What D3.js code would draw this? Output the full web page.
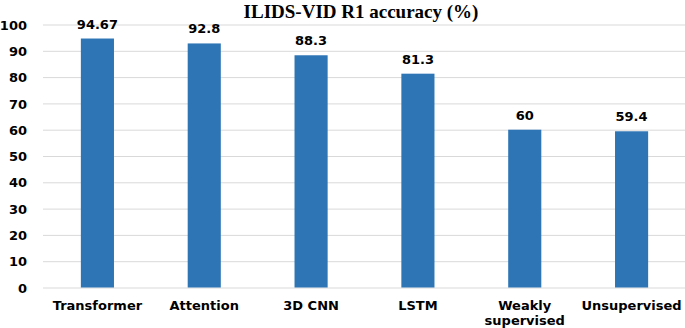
<!DOCTYPE html>
<html><head><meta charset="utf-8">
<script src="https://cdn.jsdelivr.net/npm/d3@7"></script>
<style>html,body{margin:0;padding:0;background:#fff;}svg{display:block;}</style>
</head><body>
<svg id="chart" width="685" height="328"></svg>
<script>
const categories = ["Transformer", "Attention", "3D CNN", "LSTM", "Weakly supervised", "Unsupervised"];
const categoryLines = [["Transformer"], ["Attention"], ["3D CNN"], ["LSTM"], ["Weakly", "supervised"], ["Unsupervised"]];
const values = [94.67, 92.8, 88.3, 81.3, 60, 59.4];
const valueLabels = ["94.67", "92.8", "88.3", "81.3", "60", "59.4"];
const yTicks = [0, 10, 20, 30, 40, 50, 60, 70, 80, 90, 100];
const title = "ILIDS-VID R1 accuracy (%)";

(function () {
const svg = d3.select("#chart");
const W = 685, H = 328;
const mLeft = 44, mRight = 685, mTop = 24.5, mBottom = 287.5;

const x = d3.scaleBand().domain(categories).range([mLeft, mRight]).paddingInner(0.69).paddingOuter(0.345);
const y = d3.scaleLinear().domain([0, 100]).range([mBottom, mTop]);

svg.append("rect").attr("width", W).attr("height", H).attr("fill", "#fff");

svg.append("text").attr("x", 361).attr("y", 18).attr("text-anchor", "middle")
  .attr("font-family", "'Liberation Serif', 'Times New Roman', serif").attr("font-weight", "bold")
  .attr("font-size", 19).attr("fill", "#000").text(title);

// gridlines
const yAxis = d3.axisLeft(y).tickValues(yTicks).tickSize(-(W - 43)).tickFormat(d3.format("d"));
const ga = svg.append("g").attr("transform", `translate(43,0)`).call(yAxis);
ga.select(".domain").remove();
ga.selectAll(".tick line").attr("stroke", "#d9d9d9").attr("stroke-width", 1);
ga.selectAll(".tick text").attr("x", -16).attr("dy", "0.36em")
  .attr("font-family", "'DejaVu Sans', sans-serif").attr("font-weight", "bold")
  .attr("font-size", 13).attr("fill", "#000");

// bars
svg.append("g").selectAll("rect").data(values).join("rect")
  .attr("x", (d, i) => x(categories[i]))
  .attr("y", d => y(d))
  .attr("width", x.bandwidth())
  .attr("height", d => y(0) - y(d))
  .attr("fill", "#2e75b6");

// value labels
svg.append("g").selectAll("text").data(values).join("text")
  .attr("x", (d, i) => x(categories[i]) + x.bandwidth() / 2)
  .attr("y", d => y(d) - 10)
  .attr("text-anchor", "middle")
  .attr("font-family", "'DejaVu Sans', sans-serif").attr("font-weight", "bold")
  .attr("font-size", 13).attr("fill", "#000")
  .text((d, i) => valueLabels[i]);

// category labels
const cg = svg.append("g");
categories.forEach((c, i) => {
  const t = cg.append("text")
    .attr("x", x(c) + x.bandwidth() / 2)
    .attr("y", 310)
    .attr("text-anchor", "middle")
    .attr("font-family", "'DejaVu Sans', sans-serif").attr("font-weight", "bold")
    .attr("font-size", 13).attr("fill", "#000");
  categoryLines[i].forEach((line, j) => {
    t.append("tspan").attr("x", x(c) + x.bandwidth() / 2).attr("y", 310 + j * 14.5).text(line);
  });
});
})();
</script>
</body></html>
